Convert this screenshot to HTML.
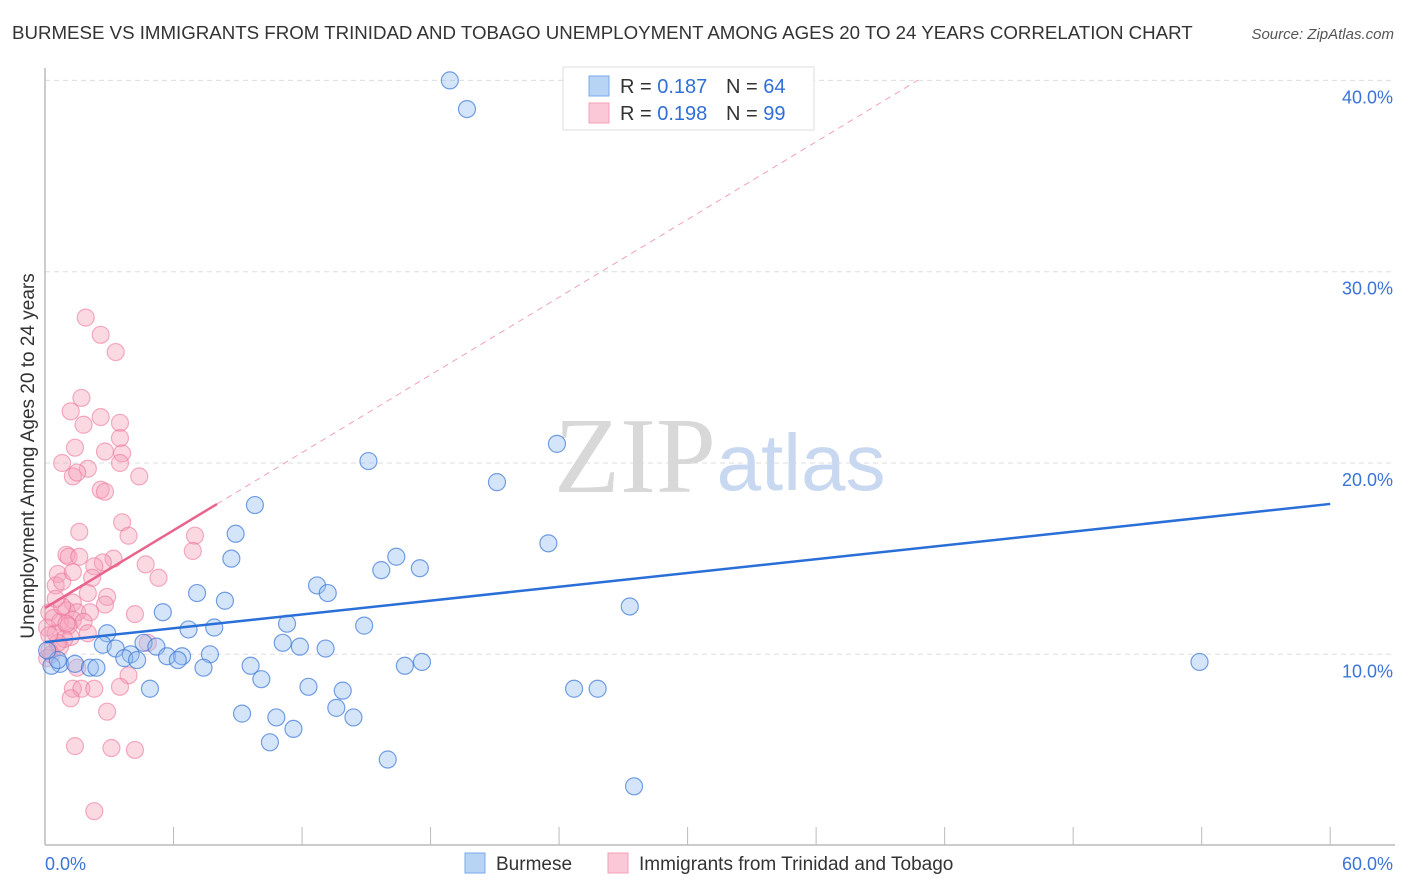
<!DOCTYPE html>
<html><head><meta charset="utf-8"><style>
body{margin:0;background:#fff;font-family:"Liberation Sans",sans-serif;}
svg{display:block}
</style></head><body>
<svg id="chart" width="1406" height="892" xmlns="http://www.w3.org/2000/svg">
<text x="12" y="39" font-size="18.7" fill="#333" font-family="Liberation Sans, sans-serif">BURMESE VS IMMIGRANTS FROM TRINIDAD AND TOBAGO UNEMPLOYMENT AMONG AGES 20 TO 24 YEARS CORRELATION CHART</text>
<text x="1394" y="39" font-size="15" fill="#555" text-anchor="end" font-style="italic">Source: ZipAtlas.com</text>
<g id="grid"></g>
<g>
<text x="635" y="492" font-size="108" fill="#d8d8d8" text-anchor="middle" font-family="Liberation Serif, serif">ZIP</text>
<text x="801" y="490" font-size="80" fill="#c8d8f0" text-anchor="middle">atlas</text>
</g>
<g id="pts"></g>
<g id="lines"></g>
<text transform="translate(34,456) rotate(-90)" font-size="19" fill="#333" text-anchor="middle">Unemployment Among Ages 20 to 24 years</text>
<g>
<rect x="563" y="67" width="251" height="63" fill="#fff" stroke="#ddd"/>
<rect x="589" y="76" width="20" height="20" fill="#b8d4f5" stroke="#7aaaf0"/>
<rect x="589" y="103" width="20" height="20" fill="#fac8d7" stroke="#f3a0b8"/>
<text x="620" y="93" font-size="20" fill="#333">R = <tspan fill="#2f6fd6">0.187</tspan></text>
<text x="726" y="93" font-size="20" fill="#333">N = <tspan fill="#2f6fd6">64</tspan></text>
<text x="620" y="120" font-size="20" fill="#333">R = <tspan fill="#2f6fd6">0.198</tspan></text>
<text x="726" y="120" font-size="20" fill="#333">N = <tspan fill="#2f6fd6">99</tspan></text>
</g>
<g>
<rect x="465" y="853" width="20" height="20" fill="#b8d4f5" stroke="#7aaaf0"/>
<text x="496" y="870" font-size="19" fill="#333">Burmese</text>
<rect x="608" y="853" width="20" height="20" fill="#fac8d7" stroke="#f3a0b8"/>
<text x="639" y="870" font-size="19" fill="#333">Immigrants from Trinidad and Tobago</text>
</g>
</svg>
<script>
const yTicks=[10,20,30,40];
const yTickLabels=["10.0%","20.0%","30.0%","40.0%"];
const xTicks=[0,6,12,18,24,30,36,42,48,54,60];
const xTickLabels=["0.0%","60.0%"];
const blueX=[18.9,19.7,23.9,15.1,21.1,9.8,8.9,23.5,8.7,16.4,15.7,17.5,12.7,13.2,7.1,8.4,27.3,5.5,11.3,14.9,7.9,6.7,11.1,11.9,13.1,4.6,5.2,2.9,2.7,3.3,4.0,5.7,6.4,7.7,6.2,3.7,4.3,7.4,9.6,16.8,17.6,53.9,0.7,1.4,2.1,2.4,0.3,10.1,12.3,13.9,4.9,24.7,25.8,13.6,9.2,10.8,14.4,11.6,10.5,16.0,27.5,0.6,0.1];
const blueY=[40.0,38.5,21.0,20.1,19.0,17.8,16.3,15.8,15.0,15.1,14.4,14.5,13.6,13.2,13.2,12.8,12.5,12.2,11.6,11.5,11.4,11.3,10.6,10.4,10.3,10.6,10.4,11.1,10.5,10.3,10.0,9.9,9.9,10.0,9.7,9.8,9.7,9.3,9.4,9.4,9.6,9.6,9.5,9.5,9.3,9.3,9.4,8.7,8.3,8.1,8.2,8.2,8.2,7.2,6.9,6.7,6.7,6.1,5.4,4.5,3.1,9.7,10.2];
const pinkX=[1.9,2.6,3.3,1.7,1.2,1.8,2.6,3.5,3.5,1.4,2.8,3.6,0.8,2.0,3.5,1.3,1.5,2.6,2.8,4.4,3.6,1.6,3.9,7.0,6.9,1.0,1.1,1.6,3.2,2.7,2.3,4.7,2.2,5.3,0.6,0.5,2.0,2.9,2.8,1.3,1.0,1.5,2.1,0.2,4.2,0.7,1.3,1.8,0.1,0.5,2.0,1.2,4.8,0.7,0.2,0.1,1.5,3.9,3.5,1.3,1.7,2.3,1.2,2.9,1.4,3.1,4.2,2.3,0.4,0.8,1.1,0.9,0.3,0.6,1.0,0.5,0.2,0.8,1.3];
const pinkY=[27.6,26.7,25.8,23.4,22.7,22.0,22.4,22.1,21.3,20.8,20.6,20.5,20.0,19.7,20.0,19.3,19.5,18.6,18.5,19.3,16.9,16.4,16.2,16.2,15.4,15.2,15.1,15.1,15.0,14.8,14.6,14.7,14.0,14.0,14.2,13.6,13.2,13.0,12.6,12.7,12.3,12.2,12.2,12.2,12.1,11.7,11.8,11.7,11.4,11.1,11.1,10.9,10.6,10.4,10.2,9.8,9.3,8.9,8.3,8.2,8.2,8.2,7.7,7.0,5.2,5.1,5.0,1.8,11.9,12.5,11.5,10.8,10.0,10.6,11.6,12.9,11.0,13.8,14.3];
const blueLine=[10.64,17.86];
const pinkLine=[12.42,0.677,8.03];
const X=v=>45+v*21.42, Y=v=>845.6-v*19.13;
const NS="http://www.w3.org/2000/svg";
function mk(t,a,p){const e=document.createElementNS(NS,t);for(const k in a)e.setAttribute(k,a[k]);p.appendChild(e);return e;}
const grid=document.getElementById('grid');
yTicks.forEach((t,i)=>{
 const l=mk('line',{x1:45,x2:1395,y1:Y(t),y2:Y(t),stroke:'#ddd','stroke-dasharray':'5,4'},grid);
 
 
 const tx=mk('text',{x:1393,y:Y(t)+23,'font-size':18,fill:'#3a74d8','text-anchor':'end'},grid);
 tx.textContent=yTickLabels[i];
 
 
});
const ax=mk('line',{x1:45,x2:1395,y1:845,y2:845,stroke:'#bbb','stroke-width':1.5},grid);


const ay=mk('line',{x1:45,x2:45,y1:68,y2:845,stroke:'#bbb','stroke-width':1.5},grid);


xTicks.forEach(t=>{const l=mk('line',{x1:X(t),x2:X(t),y1:827,y2:845,stroke:'#bbb'},grid);
 
 });
[[0,'start',45],[60,'end',1393]].forEach((d,i)=>{const tx=mk('text',{x:d[2],y:870,'font-size':18,fill:'#3a74d8','text-anchor':d[1]},grid);tx.textContent=xTickLabels[i];
 
 });
const pts=document.getElementById('pts');
pinkX.forEach((x,i)=>{const c=mk('circle',{cx:X(x),cy:Y(pinkY[i]),r:8.5,fill:'rgba(245,160,185,0.4)',stroke:'rgba(236,120,155,0.6)','stroke-width':1.2},pts);
 
 });
blueX.forEach((x,i)=>{const c=mk('circle',{cx:X(x),cy:Y(blueY[i]),r:8.5,fill:'rgba(150,190,240,0.4)',stroke:'rgba(60,120,215,0.7)','stroke-width':1.2},pts);
 
 });
const lines=document.getElementById('lines');
const bl=mk('line',{x1:X(0),y1:Y(blueLine[0]),x2:X(60),y2:Y(blueLine[1]),stroke:'#2a6fd8','stroke-width':2.5},lines);


const pd=mk('line',{x1:X(pinkLine[2]),y1:Y(pinkLine[0]+pinkLine[1]*pinkLine[2]),x2:X(40.76),y2:Y(pinkLine[0]+pinkLine[1]*40.76),stroke:'#f0a0b8','stroke-width':1,'stroke-dasharray':'6,5'},lines);


const pl=mk('line',{x1:X(0),y1:Y(pinkLine[0]),x2:X(pinkLine[2]),y2:Y(pinkLine[0]+pinkLine[1]*pinkLine[2]),stroke:'#e8648c','stroke-width':2.5},lines);


</script>
</body></html>
